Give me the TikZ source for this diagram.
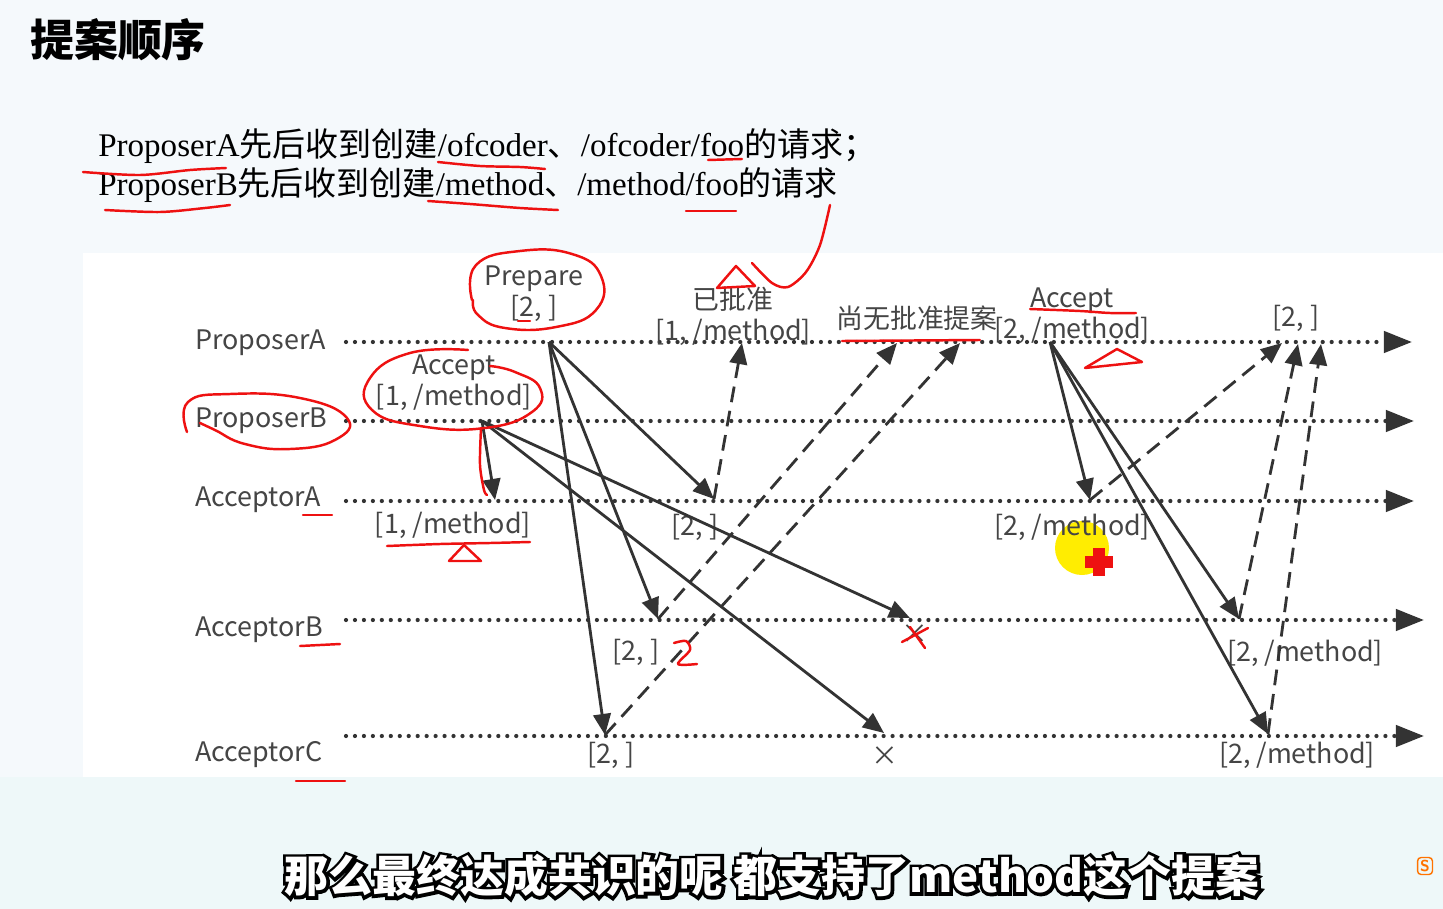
\documentclass[tikz,border=0pt]{standalone}
\usepackage{fontspec}
\setmainfont{Liberation Serif}
\newfontfamily\cjk{Noto Sans CJK SC}
\usetikzlibrary{arrows.meta}

\definecolor{slidebg}{HTML}{F5F9FC}
\definecolor{bandbg}{HTML}{EEF8F9}
\definecolor{ink}{HTML}{333333}
\definecolor{txt}{HTML}{454545}
\definecolor{pen}{HTML}{EE1111}
\newcommand{\zh}[1]{{\cjk #1}}
\font\subedge="Noto Sans CJK SC/B:embolden=14" at 25pt
\newcommand{\outlined}[1]{\rlap{\subedge\color{black}#1}{\cjk\bfseries\color{white}#1}}

\tikzset{
    timeline/.style={ink, line width=2.4pt, line cap=round, dash pattern=on 0pt off 5.1pt,
        -{Triangle[length=16pt, width=12pt]}},
    msg/.style={ink, line width=1.6pt, -{Triangle[length=12pt, width=10pt]}},
    reply/.style={msg, dash pattern=on 9pt off 5pt},
    lbl/.style={text=txt, font=\cjk\fontsize{15.3}{17.6}\selectfont, inner sep=1pt, align=center},
    lane/.style={lbl, anchor=west},
    penline/.style={pen, line width=1.4pt, line cap=round, line join=round}
}

\begin{document}
\begin{tikzpicture}[x=0.02cm, y=-0.02cm]

% Background
\useasboundingbox (0,0) rectangle (1443,909);
\fill[slidebg] (0,0) rectangle (1443,909);
\fill[white] (83,253) rectangle (1443,777);
\fill[bandbg] (0,777) rectangle (1443,909);

% Title and task
\node[anchor=west, font=\cjk\bfseries\fontsize{25}{28}\selectfont] (title) at (24,40) {提案顺序};
\node[anchor=west, font=\fontsize{18.8}{20}\selectfont, inner sep=0pt] (taskA) at (98,146)
    {ProposerA\zh{先后收到创建}/ofcoder\zh{、}/ofcoder/foo\zh{的请求；}};
\node[anchor=west, font=\fontsize{18.8}{20}\selectfont, inner sep=0pt] (taskB) at (98,185)
    {ProposerB\zh{先后收到创建}/method\zh{、}/method/foo\zh{的请求}};

% Lanes
\node[lane] (lpa) at (193,343) {ProposerA};
\node[lane] (lpb) at (193,421) {ProposerB};
\node[lane] (laa) at (193,500) {AcceptorA};
\node[lane] (lab) at (193,630) {AcceptorB};
\node[lane] (lac) at (193,755) {AcceptorC};

\coordinate (pa-s) at (346,342);  \coordinate (pa-e) at (1412,342);
\coordinate (pb-s) at (346,421);  \coordinate (pb-e) at (1414,421);
\coordinate (aa-s) at (346,501);  \coordinate (aa-e) at (1414,501);
\coordinate (ab-s) at (346,620);  \coordinate (ab-e) at (1424,620);
\coordinate (ac-s) at (346,736);  \coordinate (ac-e) at (1424,736);

\draw[timeline] (pa-s) -- (pa-e);
\draw[timeline] (pb-s) -- (pb-e);
\draw[timeline] (aa-s) -- (aa-e);
\draw[timeline] (ab-s) -- (ab-e);
\draw[timeline] (ac-s) -- (ac-e);

% Events
\coordinate (pa-prep) at (549,342);
\coordinate (pb-acc) at (482,421);
\coordinate (aa-1) at (495,500);
\coordinate (aa-2) at (714,499);
\coordinate (ab-2) at (658,619);
\coordinate (ac-2) at (605,735);
\coordinate (ab-x) at (910,618);
\coordinate (ac-x) at (884,733);
\coordinate (pa-r1) at (742,343);
\coordinate (pa-r2) at (897,343);
\coordinate (pa-r3) at (960,343);
\coordinate (pa-acc) at (1050,342);
\coordinate (aa-3) at (1090,500);
\coordinate (ab-3) at (1239,619);
\coordinate (ac-3) at (1268,734);
\coordinate (pa-r4) at (1282,343);
\coordinate (pa-r5) at (1298,344);
\coordinate (pa-r6) at (1321,344);

% Yellow pointer
\fill[yellow!95!orange] (1082,548) circle (27);

% Labels
\node[lbl] (prep) at (534,294) {Prepare\\{[2, ]}};
\node[lbl] (accB) at (454,383) {Accept\\{[1, /method]}};
\node[lbl] (okd) at (733,316) {已批准\\{[1, /method]}};
\node[lbl] (none) at (917,318) {尚无批准提案};
\node[lbl] (accA) at (1072,316) {Accept\\{[2, /method]}};
\node[lbl] (ret) at (1296,318) {[2, ]};
\node[lbl] (vaa1) at (453,525) {[1, /method]};
\node[lbl] (vaa2) at (695,527) {[2, ]};
\node[lbl] (vab2) at (636,652) {[2, ]};
\node[lbl] (vac2) at (611,755) {[2, ]};
\node[lbl] (xab) at (915,634) {×};
\node[lbl] (xac) at (885,756) {×};
\node[lbl] (vaa3) at (1072,527) {[2, /method]};
\node[lbl] (vab3) at (1305,653) {[2, /method]};
\node[lbl] (vac3) at (1297,755) {[2, /method]};

% Prepare round
\draw[msg] (pa-prep) -- (aa-2);
\draw[msg] (pa-prep) -- (ab-2);
\draw[msg] (pa-prep) -- (ac-2);
\draw[msg] (pb-acc) -- (aa-1);
\draw[msg] (pb-acc) -- (ab-x);
\draw[msg] (pb-acc) -- (ac-x);
\draw[reply] (aa-2) -- (pa-r1);
\draw[reply] (ab-2) -- (pa-r2);
\draw[reply] (ac-2) -- (pa-r3);

% Accept round
\draw[msg] (pa-acc) -- (aa-3);
\draw[msg] (pa-acc) -- (ab-3);
\draw[msg] (pa-acc) -- (ac-3);
\draw[reply] (aa-3) -- (pa-r4);
\draw[reply] (ab-3) -- (pa-r5);
\draw[reply] (ac-3) -- (pa-r6);

% Red pen marks
\draw[penline] plot[smooth] coordinates {(83,172) (140,175) (190,170) (226,168)};
\draw[penline] plot[smooth] coordinates {(105,210) (160,212) (205,208) (230,205)};
\draw[penline] plot[smooth] coordinates {(438,162) (480,166) (520,167) (545,169)};
\draw[penline] (708,160) -- (742,159);
\draw[penline] plot[smooth] coordinates {(428,201) (470,204) (520,208) (558,210)};
\draw[penline] (686,211) -- (736,211);
\draw[penline] plot[smooth] coordinates {(830,205) (820,245) (806,272) (788,287) (772,283) (752,263)};
\draw[penline] (717,288) -- (736,266) -- (755,286) -- cycle;
\draw[penline] plot[smooth, tension=0.8] coordinates {(472,300) (476,265) (520,251) (572,254) (601,276) (596,310) (556,327) (505,328) (478,315) (473,300)};
\draw[penline] (518,321) -- (530,321);
\draw[penline] plot[smooth, tension=0.8] coordinates {(468,350) (410,353) (370,378) (372,410) (420,426) (485,428) (532,412) (540,388) (515,372) (490,366)};
\draw[penline] plot[smooth, tension=0.8] coordinates {(187,432) (188,402) (230,394) (300,398) (347,418) (335,440) (290,449) (245,444) (215,430) (200,423)};
\draw[penline] plot[smooth] coordinates {(481,428) (480,465) (484,490) (487,495)};
\draw[penline] (303,515) -- (332,515);
\draw[penline] (300,646) -- (340,644);
\draw[penline] (296,781) -- (345,781);
\draw[penline] plot[smooth] coordinates {(387,546) (440,544) (490,543) (530,542)};
\draw[penline] (449,561) -- (464,545) -- (481,561) -- cycle;
\draw[penline] plot[smooth] coordinates {(674,643) (686,641) (690,650) (678,664) (697,664)};
\draw[penline] (842,341) -- (980,340);
\draw[penline] plot[smooth] coordinates {(1030,309) (1080,311) (1110,313) (1136,313)};
\draw[penline] (1085,368) -- (1117,349) -- (1142,362) -- cycle;
\draw[penline] (902,642) -- (928,628);
\draw[penline] (910,627) -- (925,648);
\fill[pen] (1093,548) rectangle (1105,576);
\fill[pen] (1085,556) rectangle (1113,568);

% Subtitle
\node[font=\cjk\bfseries\fontsize{25}{28}\selectfont] (subtitle) at (772,876)
    {\outlined{那么最终达成共识的呢 都支持了method这个提案}};
\node[draw=orange!90!red, line width=0.8pt, rounded corners=2pt, text=orange!90!red,
    font=\sffamily\bfseries\fontsize{9}{9}\selectfont, inner sep=1.5pt] (ime) at (1425,866) {S};

\end{tikzpicture}
\end{document}
